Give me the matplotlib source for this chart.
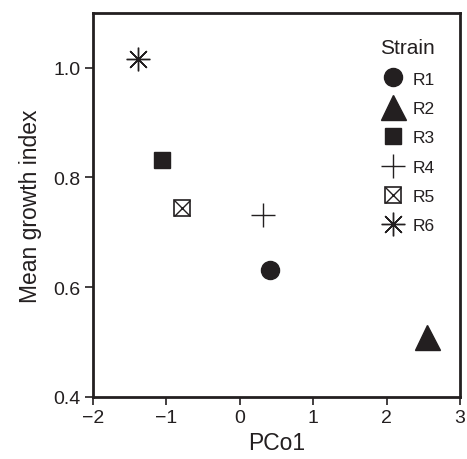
import matplotlib
matplotlib.use("Agg")
import matplotlib.pyplot as plt
from matplotlib.lines import Line2D

plt.rcParams['font.family'] = ['Liberation Sans', 'DejaVu Sans']

strains = ['R1', 'R2', 'R3', 'R4', 'R5', 'R6']
pco1 = [0.41, 2.55, -1.06, 0.32, -0.79, -1.39]
growth = [0.632, 0.510, 0.831, 0.731, 0.745, 1.016]

fig = plt.figure(figsize=(4.67, 4.60), dpi=100)
ax = fig.add_axes([0.199, 0.135, 0.786, 0.835])

C = '#231f20'
styles = {
    'R1': [dict(marker='o', ms=13, mfc=C, mec=C, mew=1)],
    'R2': [dict(marker='^', ms=18, mfc=C, mec=C, mew=1)],
    'R3': [dict(marker='s', ms=12, mfc=C, mec=C, mew=1)],
    'R4': [dict(marker='+', ms=17, mec=C, mew=1)],
    'R5': [dict(marker='s', ms=12, mfc='white', mec=C, mew=1.2),
           dict(marker='x', ms=11.5, mec=C, mew=1)],
    'R6': [dict(marker=(8, 2, 0), ms=17, mec=C, mew=1)],
}

handles = []
for s, x, y in zip(strains, pco1, growth):
    hs = []
    for st in styles[s]:
        ax.plot([x], [y], linestyle='none', **st)
        hs.append(Line2D([], [], linestyle='none', **st))
    handles.append(tuple(hs) if len(hs) > 1 else hs[0])

leg = ax.legend(handles, strains, title='Strain', loc='upper right', frameon=False,
                fontsize=12.5, title_fontsize=15, labelspacing=0.82,
                handletextpad=0.3, borderaxespad=1.06, handlelength=1.6)
leg._legend_box.align = 'right'
for t in leg.get_texts():
    t.set_color(C)
leg.get_title().set_color(C)

ax.set_xlim(-2, 3)
ax.set_ylim(0.4, 1.1)
ax.set_xticks([-2, -1, 0, 1, 2, 3])
ax.set_xticklabels(['\u22122', '\u22121', '0', '1', '2', '3'])
ax.set_yticks([0.4, 0.6, 0.8, 1.0])
ax.set_yticklabels(['0.4', '0.6', '0.8', '1.0'])
ax.tick_params(direction='out', length=6, width=1.2, labelsize=14, colors=C, pad=3)
for sp in ax.spines.values():
    sp.set_linewidth(2)
    sp.set_color(C)
ax.set_xlabel('PCo1', fontsize=16.5, color=C, labelpad=3)
ax.set_ylabel('Mean growth index', fontsize=16.5, color=C, labelpad=8)

fig.savefig('out.png', dpi=100)
